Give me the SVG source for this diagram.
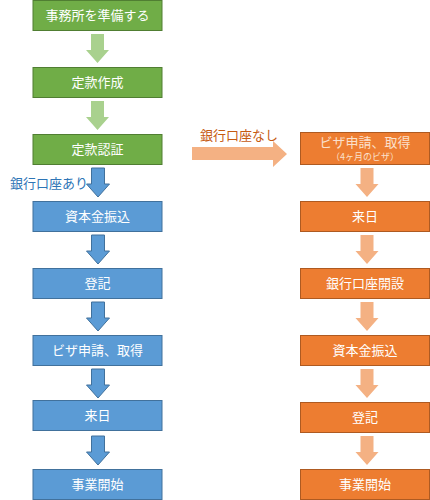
<svg xmlns="http://www.w3.org/2000/svg" width="430" height="500" viewBox="0 0 430 500">
<style>
.g{fill:#70AD47;stroke:#507E32;stroke-width:1}
.b{fill:#5B9BD5;stroke:#41719C;stroke-width:1}
.o{fill:#ED7D31;stroke:#AE5A21;stroke-width:1}
.ga{fill:#A9D18E}
.ba{fill:#5B9BD5;stroke:#41719C;stroke-width:1}
.oa{fill:#F4B183}
text{font-family:"Noto Sans CJK JP","Noto Sans CJK SC",sans-serif;font-size:13px;text-anchor:middle}
.t{fill:#fff}
</style>
<defs>
<path id="dn" d="M-6.5,0 H6.5 V16 H11.5 L0,29 L-11.5,16 H-6.5 Z"/>
</defs>
<rect width="430" height="500" fill="#fff"/>
<g id="connectors">
<use href="#dn" class="ga" x="97.5" y="34"/>
<use href="#dn" class="ga" x="97.5" y="101"/>
<use href="#dn" class="ba" x="98" y="168"/>
<use href="#dn" class="ba" x="98" y="235"/>
<use href="#dn" class="ba" x="98" y="302"/>
<use href="#dn" class="ba" x="98" y="369"/>
<use href="#dn" class="ba" x="98" y="436"/>
<use href="#dn" class="oa" x="367" y="168"/>
<use href="#dn" class="oa" x="367" y="235"/>
<use href="#dn" class="oa" x="367" y="302"/>
<use href="#dn" class="oa" x="367" y="369"/>
<use href="#dn" class="oa" x="367" y="436"/>
<path class="oa" d="M192,147 H273 V141 L287,154 L273,167 V160 H192 Z"/>
<text x="239" y="140" style="fill:#C55A11">銀行口座なし</text>
<text x="49" y="188" style="fill:#2E75B6">銀行口座あり</text>
</g>
<g id="n1"><rect class="g" x="33" y="0.5" width="129" height="30"/><text class="t" x="97.5" y="20">事務所を準備する</text></g>
<g id="n2"><rect class="g" x="33" y="67.5" width="129" height="30"/><text class="t" x="97.5" y="87">定款作成</text></g>
<g id="n3"><rect class="g" x="33" y="134.5" width="129" height="30"/><text class="t" x="97.5" y="154">定款認証</text></g>
<g id="b1"><rect class="b" x="33" y="201.5" width="129" height="30"/><text class="t" x="97.5" y="221">資本金振込</text></g>
<g id="b2"><rect class="b" x="33" y="268.5" width="129" height="30"/><text class="t" x="97.5" y="288">登記</text></g>
<g id="b3"><rect class="b" x="33" y="335.5" width="129" height="30"/><text class="t" x="97.5" y="355">ビザ申請、取得</text></g>
<g id="b4"><rect class="b" x="33" y="400.5" width="129" height="30"/><text class="t" x="97.5" y="420">来日</text></g>
<g id="b5"><rect class="b" x="33" y="469.5" width="129" height="30"/><text class="t" x="97.5" y="489">事業開始</text></g>
<g id="o1"><rect class="o" x="300.5" y="132.5" width="129" height="32"/><text class="t" x="365" y="147" style="fill:#FBE0CC">ビザ申請、取得</text><text class="t" x="365" y="160" style="font-size:9px;fill:#FBE0CC">（4ヶ月のビザ）</text></g>
<g id="o2"><rect class="o" x="300.5" y="201.5" width="129" height="30"/><text class="t" x="365" y="221">来日</text></g>
<g id="o3"><rect class="o" x="300.5" y="268.5" width="129" height="30"/><text class="t" x="365" y="288">銀行口座開設</text></g>
<g id="o4"><rect class="o" x="300.5" y="335.5" width="129" height="30"/><text class="t" x="365" y="355">資本金振込</text></g>
<g id="o5"><rect class="o" x="300.5" y="402.5" width="129" height="30"/><text class="t" x="365" y="422">登記</text></g>
<g id="o6"><rect class="o" x="300.5" y="469.5" width="129" height="30"/><text class="t" x="365" y="489">事業開始</text></g>
</svg>
